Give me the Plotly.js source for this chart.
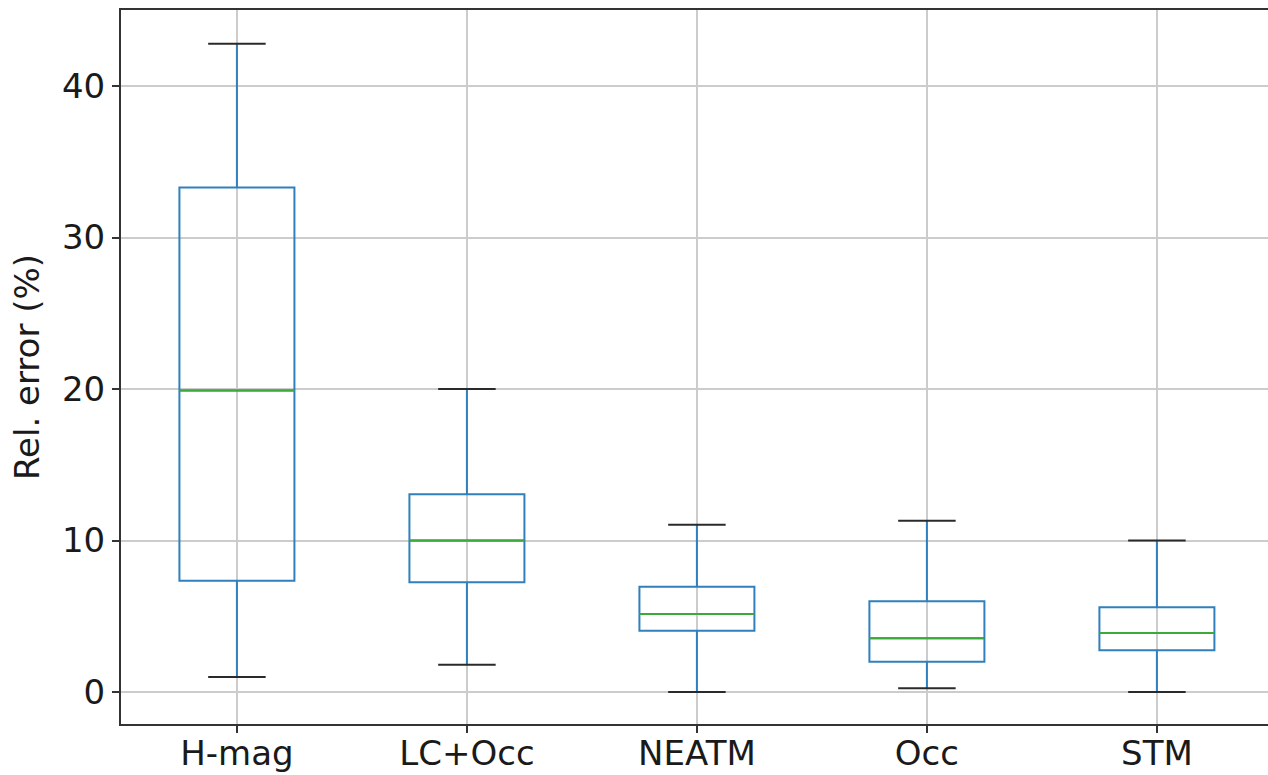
<!DOCTYPE html>
<html>
<head>
<meta charset="utf-8">
<script src="https://cdn.plot.ly/plotly-3.0.1.min.js"></script>
<style>html,body{margin:0;padding:0;background:#fff;overflow:hidden}</style>
</head>
<body>
<div id="chart" style="width:1268px;height:775px"></div>
<script>
// Data
const categories = ["H-mag", "LC+Occ", "NEATM", "Occ", "STM"];
const lowerWhisker = [1.0, 1.8, 0.0, 0.25, 0.0];
const q1Values     = [7.35, 7.25, 4.05, 2.0, 2.75];
const medianValues = [19.9, 10.0, 5.15, 3.55, 3.9];
const q3Values     = [33.3, 13.05, 6.95, 6.0, 5.6];
const upperWhisker = [42.8, 20.0, 11.05, 11.3, 10.0];
const yTickValues  = [0, 10, 20, 30, 40];

const pos = categories.map((c, i) => i);
const boxHalf = 0.25, capHalf = 0.125;

function segments(values, half) {
  const xs = [], ys = [];
  values.forEach((v, i) => {
    xs.push(pos[i] - half, pos[i] + half, null);
    ys.push(v, v, null);
  });
  return {xs, ys};
}

const boxTrace = {
  type: 'box',
  x: pos,
  q1: q1Values,
  median: medianValues,
  q3: q3Values,
  lowerfence: lowerWhisker,
  upperfence: upperWhisker,
  width: boxHalf * 2,
  whiskerwidth: 0,
  line: {color: '#2f80bd', width: 2},
  fillcolor: 'rgba(0,0,0,0)',
  boxpoints: false,
  hoverinfo: 'skip',
  showlegend: false
};

const capsLow = segments(lowerWhisker, capHalf);
const capsHigh = segments(upperWhisker, capHalf);
const meds = segments(medianValues, boxHalf);

const capTrace = {
  type: 'scatter', mode: 'lines',
  x: capsLow.xs.concat(capsHigh.xs),
  y: capsLow.ys.concat(capsHigh.ys),
  line: {color: '#2a2a2a', width: 2},
  hoverinfo: 'skip', showlegend: false
};
const medTrace = {
  type: 'scatter', mode: 'lines',
  x: meds.xs, y: meds.ys,
  line: {color: '#3aaa3a', width: 2},
  hoverinfo: 'skip', showlegend: false
};

const font = {family: 'DejaVu Sans, sans-serif', size: 34, color: '#1a1a1a'};

const layout = {
  width: 1268, height: 775,
  margin: {l: 121, r: 0, t: 10, b: 51, pad: 0},
  paper_bgcolor: '#ffffff', plot_bgcolor: '#ffffff',
  font: font,
  showlegend: false,
  xaxis: {
    range: [-0.504, 4.483],
    tickmode: 'array', tickvals: pos, ticktext: categories,
    showgrid: true, gridcolor: '#cccccc', gridwidth: 2,
    zeroline: false,
    showline: true, linecolor: '#333333', linewidth: 2, mirror: true,
    ticks: 'outside', ticklen: 7, tickwidth: 2, tickcolor: '#333333',
    tickfont: font,
    ticklabelstandoff: -9
  },
  yaxis: {
    range: [-2.11, 45.02],
    tickmode: 'array', tickvals: yTickValues, ticktext: yTickValues.map(String),
    showgrid: true, gridcolor: '#cccccc', gridwidth: 2,
    zeroline: false,
    showline: true, linecolor: '#333333', linewidth: 2, mirror: false,
    ticks: 'outside', ticklen: 7, tickwidth: 2, tickcolor: '#333333',
    tickfont: font,
    title: {text: 'Rel. error (%)', font: font, standoff: 12}
  }
};

Plotly.newPlot('chart', [boxTrace, medTrace, capTrace], layout, {displayModeBar: false, staticPlot: true});
</script>
</body>
</html>
